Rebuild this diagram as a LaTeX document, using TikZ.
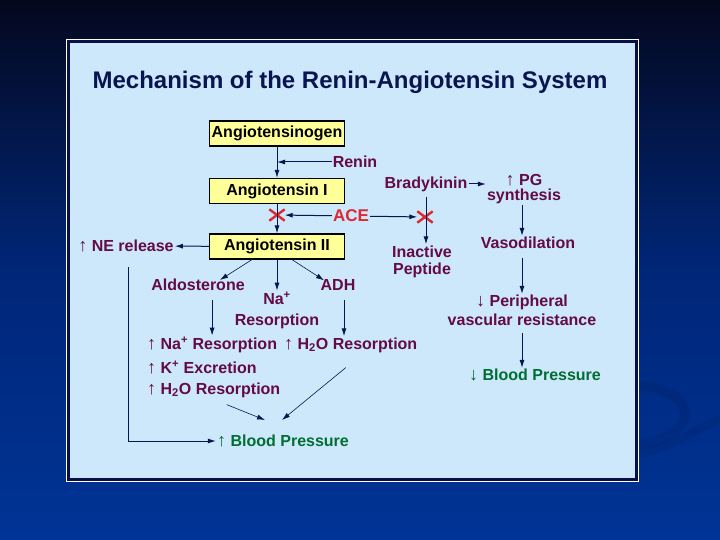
\documentclass[tikz,border=0pt]{standalone}
\usepackage{fontspec}
\setmainfont{Liberation Sans}
\definecolor{rasnight}{RGB}{4,8,30}
\definecolor{rasmid}{RGB}{0,38,120}
\definecolor{rasdeep}{RGB}{0,52,150}
\definecolor{raspanel}{RGB}{204,232,250}
\definecolor{rasframe}{RGB}{8,16,70}
\definecolor{rasyellow}{RGB}{255,255,153}
\definecolor{raspurple}{RGB}{100,10,70}
\definecolor{rasnavy}{RGB}{10,20,80}
\definecolor{rasred}{RGB}{220,40,50}
\definecolor{rasgreen}{RGB}{0,110,50}
\newcommand\rasup{\smash{\fontsize{18}{17}\selectfont ↑}}
\newcommand\rasdown{\smash{\fontsize{18}{17}\selectfont ↓}}
\usetikzlibrary{arrows.meta,positioning,shapes.misc,calc}

\begin{document}
\begin{tikzpicture}[x=1pt,y=-1pt,
  every node/.style={font=\bfseries\fontsize{16}{17}\selectfont,inner sep=1pt},
  boxnode/.style={draw=black,fill=rasyellow,line width=1.2pt,
                  minimum width=135pt,minimum height=25pt},
  lbl/.style={text=raspurple,align=center},
  arr/.style={draw=rasnavy,line width=1pt,-{Latex[length=8pt,width=5pt]}},
  thinarr/.style={arr,line width=0.6pt},
  xmark/.style={cross out,draw=rasred,line width=2.4pt,
                minimum width=13pt,minimum height=9pt,inner sep=0pt}]
  \useasboundingbox (0,0) rectangle (720,540);

  %% slide background and panel
  \shade[top color=rasnight,bottom color=rasdeep,middle color=rasmid]
        (0,0) rectangle (720,540);
  \draw[black,opacity=0.07,line width=10pt]
        (640,385) .. controls (705,395) and (695,435) .. (640,445);
  \draw[black,opacity=0.07,line width=8pt]
        (640,455) .. controls (680,442) and (700,428) .. (720,418);
  \fill[white] (66,39) rectangle (639,482);
  \fill[rasframe] (67,40) rectangle (638,481);
  \fill[raspanel] (70,43) rectangle (635,478);

  \node[font=\bfseries\fontsize{24}{26}\selectfont,text=rasnavy] (title)
        at (350,82) {Mechanism of the Renin-Angiotensin System};

  %% main cascade
  \node[boxnode] (agen) at (277,133.5) {Angiotensinogen};
  \node[boxnode] (ang1) at (277,191) {Angiotensin I};
  \node[boxnode] (ang2) at (277,246.5) {Angiotensin II};
  \node[lbl] (renin) at (355,162) {Renin};
  \coordinate (reninjoin) at (277,162);
  \node[xmark] (xang) at (277,215) {};
  \node[lbl,text=rasred,font=\bfseries\fontsize{17}{17}\selectfont] (ace)
        at (351,216) {ACE};

  %% bradykinin branch
  \node[lbl] (brady) at (426,184) {Bradykinin};
  \node[lbl,font=\bfseries\fontsize{16}{15}\selectfont] (pg)
        at (524,189) {\rasup{} PG\\synthesis};
  \node[xmark] (xbrady) at (425,217) {};
  \node[lbl] (peptide) at (422,261.5) {Inactive\\Peptide};
  \node[lbl] (vaso) at (528,243) {Vasodilation};
  \node[lbl,font=\bfseries\fontsize{16}{19}\selectfont] (periph)
        at (522,310.5) {\rasdown{} Peripheral\\vascular resistance};
  \node[lbl,text=rasgreen] (bpdown) at (535,375) {\rasdown{} Blood Pressure};

  %% angiotensin II effects
  \node[lbl] (ne) at (126,246) {\rasup{} NE release};
  \node[lbl] (aldo) at (198,285) {Aldosterone};
  \node[lbl,font=\bfseries\fontsize{16}{21}\selectfont] (na)
        at (277,310.5) {Na\textsuperscript{+}\\Resorption};
  \node[lbl] (adh) at (338,285) {ADH};
  \node[lbl,anchor=west] (effna) at (146,345) {\rasup{} Na\textsuperscript{+} Resorption};
  \node[lbl,anchor=west] (effwater) at (283,345) {\rasup{} H\textsubscript{2}O Resorption};
  \node[lbl,anchor=west] (effk) at (146,367) {\rasup{} K\textsuperscript{+} Excretion};
  \node[lbl,anchor=west] (effh) at (146,390) {\rasup{} H\textsubscript{2}O Resorption};
  \node[lbl,text=rasgreen] (bpup) at (283,441) {\rasup{} Blood Pressure};
  \coordinate (bpleft) at (265,420);
  \coordinate (bpright) at (282,420);

  %% connectors
  \draw[arr] (agen) -- (ang1);
  \draw[arr] (renin) -- (reninjoin);
  \draw[arr] (ang1) -- (ang2);
  \draw[arr] (ace) -- (xang);
  \draw[arr] (ace) -- (xbrady);
  \draw[arr] (brady.east) -- (brady.east -| pg.west);
  \draw[arr] ($(brady.south)+(0,4)$) -- (brady.south |- peptide.north);
  \draw[arr] (pg.south -| periph.north) -- (vaso.north -| periph.north);
  \draw[arr] ($(vaso.south -| periph.north)+(0,8)$) -- (periph.north);
  \draw[arr] ($(periph.south)+(0,6)$) -- (periph.south |- bpdown.north);
  \draw[arr] (ang2) -- (ne);
  \draw[arr] ($(ne.south)+(2,14)$) |- (bpup);
  \draw[thinarr] ($(ang2.south)+(-25,0)$) -- ($(aldo.north)+(22,2)$);
  \draw[arr] (ang2.south) -- (na.north);
  \draw[thinarr] ($(ang2.south)+(15,0)$) -- ($(adh.north)+(-14,2)$);
  \draw[arr] ($(aldo.south -| effna.north)+(0,8)$) -- (effna.north);
  \draw[arr] ($(adh.south)+(6,8)$) -- ($(adh.south |- effwater.north)+(6,0)$);
  \draw[thinarr] ($(effh.south)+(13,6)$) -- (bpleft);
  \draw[thinarr] ($(effwater.south)+(-5,14)$) -- (bpright);
\end{tikzpicture}
\end{document}
